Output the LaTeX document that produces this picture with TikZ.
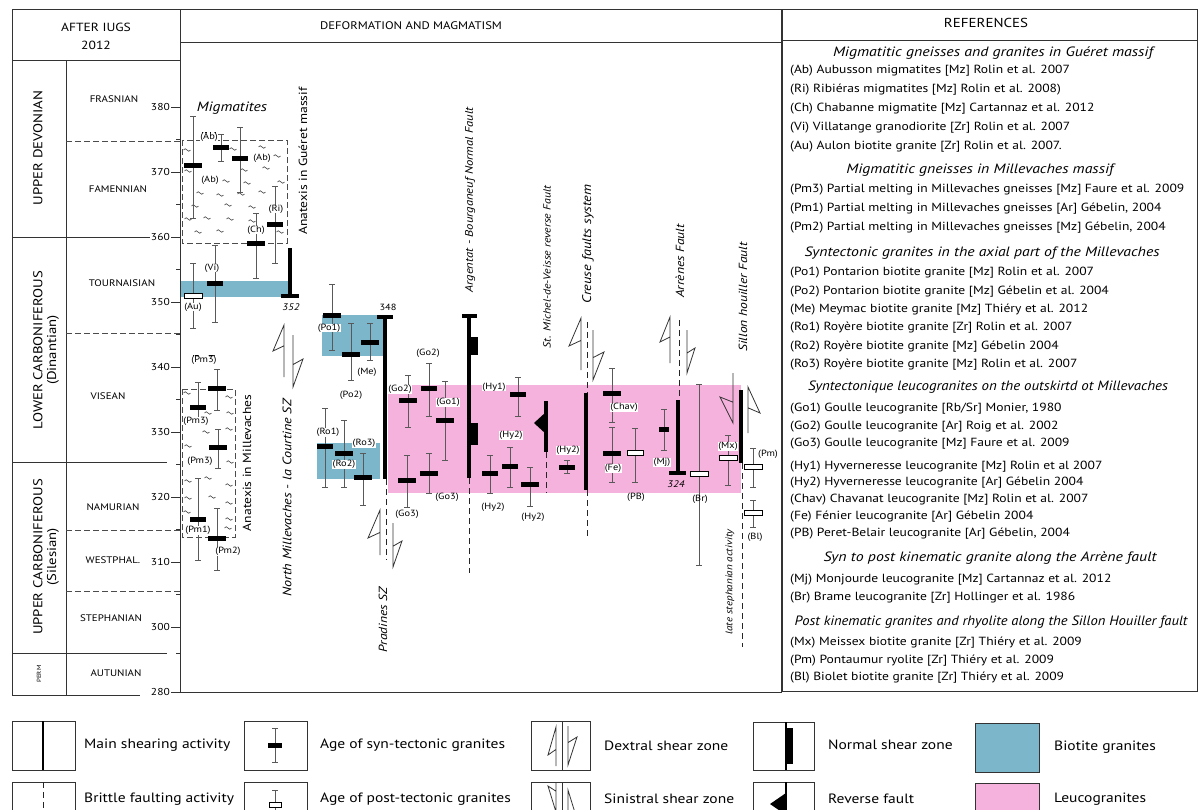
\documentclass[tikz,border=0pt]{standalone}
\usepackage{fontspec}
\setmainfont{PT Sans}[FakeStretch=1.15]
\usepackage{graphicx}
\definecolor{bio}{RGB}{124,182,203}
\definecolor{leuco}{RGB}{245,178,220}
\tikzset{
  frame/.style={draw=black!80, line width=0.9pt},
  errl/.style={draw=black!65, line width=0.8pt},
  shear/.style={draw=black, line width=3.4pt},
  brittle/.style={draw=black!85, line width=1pt, dash pattern=on 6pt off 4pt},
  dbox/.style={draw=black!70, line width=1pt, dash pattern=on 6pt off 3pt},
  flg/.style={draw=black!80, line width=0.8pt, line join=miter},
  tldst/.style={draw=black!75, line width=0.6pt},
  lab/.style={font=\fontsize{9}{10}\selectfont, fill=white, inner sep=0.3pt},
  nolab/.style={font=\fontsize{9}{10}\selectfont, inner sep=0.3pt},
  rotit/.style={rotate=90, font=\itshape\fontsize{11.8}{12}\selectfont, inner sep=0},
  rotup/.style={rotate=90, font=\fontsize{11.8}{12}\selectfont, inner sep=0},
  period/.style={rotate=90, font=\fontsize{12.8}{13}\selectfont, inner sep=0},
  stg/.style={font=\fontsize{9.5}{10}\selectfont, inner sep=0},
  axl/.style={font=\fontsize{10}{10}\selectfont, anchor=east, inner sep=0},
  ref/.style={anchor=west, font=\fontsize{11.8}{12}\selectfont, inner sep=0},
  leg/.style={anchor=west, font=\fontsize{13.5}{14}\selectfont, inner sep=0},
  lbox/.style={draw=black!80, line width=0.8pt},
}
\newcommand\synbar[5]{%
  \draw[errl] (#1,#2)--(#1,#3) ({#1-3},#2)--({#1+3},#2) ({#1-3},#3)--({#1+3},#3);
  \fill[black] ({#1-#5},{#4-2.5}) rectangle ({#1+#5},{#4+2.5});}
\newcommand\postbar[5]{%
  \draw[errl] (#1,#2)--(#1,#3) ({#1-3},#2)--({#1+3},#2) ({#1-3},#3)--({#1+3},#3);
  \filldraw[fill=white,draw=black,line width=0.8pt] ({#1-#5},{#4-2.3}) rectangle ({#1+#5},{#4+2.3});}
\newcommand\flagline[5]{\draw[flg] (#1,#3)--(#1,#2)--({#1+(#4)},{#2+(#5)})--(#1,{#2+0.8*(#5)});}
\newcommand\tld[2]{\draw[tldst] ({#1-3.5},#2) sin ({#1-1.75},{#2-1.3}) cos (#1,#2) sin ({#1+1.75},{#2+1.3}) cos ({#1+3.5},#2);}
\newcommand\hd[5]{\node[inner sep=0] (#1) at (#2,#3) {\resizebox{#4pt}{\height}{\itshape\fontsize{13.5}{14}\selectfont #5}};}
\begin{document}
\begin{tikzpicture}[x=1pt,y=-1pt]
\useasboundingbox (0,0) rectangle (1200,809);
% ---------- colour bands
\fill[bio] (180,281) rectangle (290,297);
\fill[bio] (322,315) rectangle (383,356);
\fill[bio] (317,443) rectangle (380,479);
\fill[leuco] (388,385) rectangle (741,493);
% ---------- frames
\draw[frame] (12,9) -- (1197,9);
\draw[frame] (12,9) -- (12,695);
\draw[frame] (12,60) -- (180,60);
\draw[frame] (66,60) -- (66,695);
\draw[frame] (180,9) -- (180,692) -- (782,692);
\draw[frame] (180,42) -- (782,42);
\draw[frame, line width=1.5pt] (782,9) -- (782,692);
\draw[frame] (782,40) -- (1197,40);
\draw[frame] (1197,9) -- (1197,691) -- (782,691);
\draw[frame] (12,237) -- (150,237);
\draw[frame] (12,462) -- (167,462);
\draw[frame] (12,653) -- (167,653);
\draw[frame] (12,695) -- (140,695);
\draw[dbox] (66,141) -- (182,141);
\draw[dbox] (66,333) -- (180,333);
\draw[dbox] (66,530) -- (182,530);
\draw[dbox] (66,591) -- (180,591);
% ---------- axis
\foreach \v/\yy [count=\i] in {380/107,370/172,360/237,350/302,340/367,330/432,320/497,310/562,300/627,280/692}{
  \draw[frame, line width=0.7pt] (171,\yy) -- (180,\yy);
  \node[axl] (ax\i) at (170,\yy) {\v};}
\foreach \yy in {139.5,204.5,269.5,334.5,399.5,464.5,529.5,594.5,653}{
  \draw[frame, line width=0.7pt] (176,\yy) -- (180,\yy);}
% ---------- left column texts
\node[font=\fontsize{11.8}{12}\selectfont] (h1) at (96,27) {AFTER IUGS};
\node[font=\fontsize{11.8}{12}\selectfont] (h2) at (96,45) {2012};
\node[period] (p1) at (38,148) {UPPER DEVONIAN};
\node[period] (p2) at (38,350) {LOWER CARBONIFEROUS};
\node[period] (p2b) at (53,350) {(Dinantian)};
\node[period] (p3) at (38,557) {UPPER CARBONIFEROUS};
\node[period] (p3b) at (53,557) {(Silesian)};
\node[period, font=\fontsize{6}{6}\selectfont] (p4) at (39,674) {PERM};
\node[stg] (s1) at (114,99) {FRASNIAN};
\node[stg] (s2) at (118,189) {FAMENNIAN};
\node[stg] (s3) at (122,283) {TOURNAISIAN};
\node[stg] (s4) at (108,396) {VISEAN};
\node[stg] (s5) at (113,507) {NAMURIAN};
\node[stg] (s6) at (113,560) {WESTPHAL.};
\node[stg] (s7) at (111,618) {STEPHANIAN};
\node[stg] (s8) at (116,673) {AUTUNIAN};
% ---------- headers
\node[font=\fontsize{11}{12}\selectfont] (hm) at (411,26) {DEFORMATION AND MAGMATISM};
\node[font=\fontsize{13}{13}\selectfont] (hr) at (986,23) {REFERENCES};
% ---------- Gueret migmatites
\draw[dbox] (182,140) rectangle (287,243);
\node[font=\itshape\fontsize{13.5}{14}\selectfont] (mig) at (232,108) {Migmatites};
\foreach \a/\b in {187/150,233/149,262/147,277/156,188/171,244/170,266/168,226/181,247/183,281/182,200/193,220/195,241/194,262/192,195/206,228/205,252/207,188/219,207/218,230/219,252/221,198/232,220/231,280/232}
  \tld{\a}{\b}
\synbar{193}{116}{218}{165}{9}
\synbar{221}{134}{161}{147}{8}
\synbar{240}{127}{192}{158}{8}
\synbar{275}{186}{263}{224}{8}
\synbar{256}{213}{278}{243}{9}
\synbar{215}{245}{322}{283}{8}
\postbar{193}{263}{328}{296}{9}
\node[lab] (lAb2) at (209,137) {(Ab)};
\node[lab] (lAb1) at (210,180) {(Ab)};
\node[lab] (lAb3) at (262,158) {(Ab)};
\node[lab] (lRi) at (276,209) {(Ri)};
\node[lab] (lCh) at (256,230) {(Ch)};
\node[lab] (lVi) at (212,268) {(Vi)};
\node[lab] (lAu) at (193,307) {(Au)};
\draw[shear] (290,248) -- (290,296);
\draw[shear] (281,296) -- (299,296);
\node[nolab, font=\itshape\fontsize{9.5}{10}\selectfont] (l352) at (291,307) {352};
\node[rotup] (anG) at (303,161) {Anatexis in Guéret massif};
% ---------- Millevaches migmatites
\draw[dbox] (182,389) rectangle (235,537);
\foreach \a/\b in {187/393,229/397,208/413,230/413,206/432,229/429,188/446,230/462,188/481,208/478,229/485,188/498,212/497,229/503,187/512,228/528,229/519}
  \tld{\a}{\b}
\synbar{217}{369}{410}{388}{9}
\synbar{198}{382}{418}{407}{8}
\synbar{218}{429}{468}{447}{9}
\synbar{198}{478}{560}{519}{8}
\synbar{217}{508}{570}{538}{9}
\node[lab] (lPm3a) at (204,360) {(Pm3)};
\node[lab] (lPm3b) at (196,421) {(Pm3)};
\node[lab] (lPm3c) at (200,461) {(Pm3)};
\node[lab] (lPm1) at (198,530) {(Pm1)};
\node[lab] (lPm2) at (228,551) {(Pm2)};
\node[rotup] (anM) at (247,463) {Anatexis in Millevaches};
% ---------- North Millevaches SZ
\flagline{284}{325}{377}{-11}{26}
\flagline{293}{387}{335}{10}{-28}
\node[rotit, font=\itshape\fontsize{12.3}{12}\selectfont] (nm) at (287,498) {North Millevaches - la Courtine SZ};
% ---------- Po / Me / Ro
\synbar{332}{284}{350}{315}{9}
\synbar{351}{323}{380}{354}{9}
\synbar{370}{323}{360}{342}{9}
\synbar{325}{408}{487}{446}{8}
\synbar{344}{420}{487}{453}{9}
\synbar{363}{453}{505}{477}{9}
\node[lab] (lPo1) at (329,328) {(Po1)};
\node[lab] (lPo2) at (351,395) {(Po2)};
\node[lab] (lMe) at (367,372) {(Me)};
\node[lab] (lRo1) at (328,432) {(Ro1)};
\node[lab] (lRo2) at (344,464) {(Ro2)};
\node[lab] (lRo3) at (364,443) {(Ro3)};
\draw[shear] (385,317) -- (385,479);
\draw[shear] (377,317) -- (393,317);
\node[nolab] (l348) at (388,307) {348};
\draw[brittle] (386,479) -- (386,560);
\flagline{380}{510}{555}{-12}{28}
\flagline{393}{567}{523}{9}{-26}
\node[rotit] (prad) at (383,620) {Pradines SZ};
% ---------- Goulle
\synbar{408}{375}{427}{400}{9}
\synbar{429}{363}{416}{388}{8}
\synbar{445}{381}{460}{420}{9}
\synbar{407}{455}{507}{480}{9}
\synbar{429}{453}{493}{473}{9}
\node[lab] (lGo2a) at (400,389) {(Go2)};
\node[lab] (lGo2b) at (428,353) {(Go2)};
\node[lab] (lGo1) at (448,402) {(Go1)};
\node[lab] (lGo3a) at (407,514) {(Go3)};
\node[lab] (lGo3b) at (447,497) {(Go3)};
% ---------- Argentat
\draw[shear] (469,316) -- (469,478);
\draw[shear] (462,316) -- (477,316);
\fill[black] (469,337) rectangle (478,355);
\fill[black] (469,423) rectangle (478,445);
\draw[brittle] (469,478) -- (469,573);
\node[rotit, font=\itshape\fontsize{11}{12}\selectfont] (arg) at (470,200) {Argentat - Bourganeuf Normal Fault};
% ---------- Hyverneresse
\synbar{518}{377}{416}{394}{8}
\synbar{490}{455}{493}{473}{8}
\synbar{510}{447}{487}{466}{8}
\synbar{530}{467}{506}{484}{9}
\synbar{567}{460}{473}{467}{8}
\node[lab] (lHy1) at (494,387) {(Hy1)};
\node[lab] (lHy2a) at (493,507) {(Hy2)};
\node[lab] (lHy2b) at (511,435) {(Hy2)};
\node[lab] (lHy2c) at (533,517) {(Hy2)};
\node[lab] (lHy2d) at (568,450) {(Hy2)};
% ---------- St Michel reverse fault
\draw[shear] (546,401) -- (546,452);
\fill[black] (546,412) -- (534,423) -- (546,434) -- cycle;
\draw[brittle] (546,452) -- (546,493);
\node[rotit, font=\itshape\fontsize{10.3}{11}\selectfont] (stm) at (547,267) {St. Michel-de-Veisse reverse Fault};
% ---------- Creuse
\draw[brittle] (587,322) -- (587,393);
\draw[shear] (586,393) -- (586,490);
\draw[brittle] (587,490) -- (587,537);
\flagline{581}{318}{370}{-12}{28}
\flagline{593}{380}{330}{11}{-28}
\node[rotit, font=\itshape\fontsize{12.5}{12}\selectfont] (cre) at (588,244) {Creuse faults system};
% ---------- Chavanat, Fenier, PB, Mj
\synbar{612}{368}{422}{393}{9}
\synbar{612}{427}{482}{453}{9}
\postbar{635}{428}{482}{453}{8}
\synbar{664}{409}{450}{429}{5}
\node[lab] (lChav) at (624,407) {(Chav)};
\node[lab] (lFe) at (613,468) {(Fe)};
\node[nolab] (lPB) at (636,497) {(PB)};
\node[lab] (lMj) at (662,462) {(Mj)};
% ---------- Arrenes
\draw[brittle] (679,320) -- (679,400);
\draw[shear] (678,400) -- (678,473);
\draw[shear] (669,473) -- (686,473);
\node[nolab, font=\itshape\fontsize{9.5}{10}\selectfont] (l324) at (676,484) {324};
\flagline{670}{317}{363}{-10}{25}
\flagline{687}{373}{330}{8}{-25}
\node[rotit] (arr) at (680,261) {Arrènes Fault};
% ---------- Brame, Meissex, Sillon Houiller
\postbar{699}{384}{565}{474}{9}
\node[nolab] (lBr) at (700,499) {(Br)};
\postbar{728}{435}{485}{458}{9}
\node[lab] (lMx) at (728,446) {(Mx)};
\draw[shear] (741,390) -- (741,463);
\draw[brittle] (742,463) -- (742,647);
\flagline{733}{423}{373}{-13}{-26}
\flagline{748}{387}{433}{12}{26}
\postbar{753}{448}{487}{467}{9}
\node[lab] (lPm) at (768,454) {(Pm)};
\postbar{753}{500}{527}{513}{9}
\node[lab] (lBl) at (755,537) {(Bl)};
\node[rotit] (sil) at (743,297) {Sillon  houiller Fault};
\node[rotit, font=\itshape\fontsize{9.6}{10}\selectfont] (lat) at (730,582) {late stephanian activity};
% ---------- references
\hd{H1}{993}{53}{320}{Migmatitic gneisses and granites in Guéret massif}
\node[ref] (r1) at (790,71) {(Ab) Aubusson migmatites  [Mz] Rolin et al. 2007};
\node[ref] (r2) at (790,90) {(Ri) Ribiéras migmatites [Mz] Rolin et al.  2008)};
\node[ref] (r3) at (790,109) {(Ch) Chabanne  migmatite [Mz] Cartannaz et al.  2012};
\node[ref] (r4) at (790,128) {(Vi)  Villatange granodiorite [Zr] Rolin et al. 2007};
\node[ref] (r5) at (790,147) {(Au)  Aulon biotite granite  [Zr] Rolin et al. 2007.};
\hd{H2}{980}{170}{267}{Migmatitic gneisses in Millevaches massif}
\node[ref] (r6) at (790,190) {(Pm3) Partial melting in Millevaches gneisses [Mz] Faure et al. 2009};
\node[ref] (r7) at (790,209) {(Pm1) Partial melting  in Millevaches gneisses [Ar] Gébelin, 2004};
\node[ref] (r8) at (790,228) {(Pm2)  Partial  melting in Millevaches gneisses [Mz] Gébelin, 2004};
\hd{H3}{982}{253}{355}{Syntectonic granites in the axial part of the Millevaches}
\node[ref] (r9) at (790,273) {(Po1) Pontarion  biotite granite [Mz] Rolin et al. 2007};
\node[ref] (r10) at (790,292) {(Po2) Pontarion  biotite granite  [Mz] Gébelin et al. 2004};
\node[ref] (r11) at (790,310) {(Me) Meymac  biotite granite [Mz] Thiéry et al. 2012};
\node[ref] (r12) at (790,328) {(Ro1) Royère biotite granite [Zr] Rolin et al. 2007};
\node[ref] (r13) at (790,347) {(Ro2) Royère biotite granite [Mz] Gébelin 2004};
\node[ref] (r14) at (790,365) {(Ro3) Royère biotite granite  [Mz] Rolin et al. 2007};
\hd{H4}{988}{387}{360}{Syntectonique leucogranites on the outskirtd ot Millevaches}
\node[ref] (r15) at (790,409) {(Go1) Goulle leucogranite [Rb/Sr] Monier, 1980};
\node[ref] (r16) at (790,427) {(Go2) Goulle  leucogranite [Ar] Roig et al. 2002};
\node[ref] (r17) at (790,444) {(Go3) Goulle leucogranite [Mz] Faure et al. 2009};
\node[ref] (r18) at (790,467) {(Hy1) Hyverneresse leucogranite [Mz] Rolin et al 2007};
\node[ref] (r19) at (790,483) {(Hy2) Hyverneresse leucogranite  [Ar] Gébelin 2004};
\node[ref] (r20) at (790,500) {(Chav) Chavanat leucogranite [Mz] Rolin et al. 2007};
\node[ref] (r21) at (790,517) {(Fe) Fénier leucogranite [Ar] Gébelin 2004};
\node[ref] (r22) at (790,534) {(PB) Peret-Belair leucogranite [Ar] Gébelin, 2004};
\hd{H5}{990}{558}{333}{Syn to post kinematic granite along the Arrène fault}
\node[ref] (r23) at (790,580) {(Mj) Monjourde leucogranite [Mz] Cartannaz et al. 2012};
\node[ref] (r24) at (790,598) {(Br) Brame leucogranite [Zr] Hollinger et al. 1986};
\hd{H6}{991}{622}{393}{Post kinematic granites and rhyolite along the Sillon Houiller fault}
\node[ref] (r25) at (790,643) {(Mx) Meissex biotite granite [Zr] Thiéry et al. 2009};
\node[ref] (r26) at (790,661) {(Pm) Pontaumur  ryolite [Zr] Thiéry et al. 2009};
\node[ref] (r27) at (790,678) {(Bl) Biolet biotite granite [Zr] Thiéry et al. 2009};
% ---------- legend
\draw[lbox] (12,721) rectangle (75,770);
\draw[black, line width=2.5pt] (43,721) -- (43,770);
\node[leg] (g1) at (84,745) {Main shearing  activity};
\draw[lbox] (12,782) rectangle (75,832);
\draw[brittle, line width=0.8pt] (43,782) -- (43,832);
\node[leg] (g2) at (84,799) {Brittle faulting activity};
\draw[lbox] (244,721) rectangle (307,770);
\synbar{275}{728}{762}{745}{7}
\node[leg] (g3) at (320,745) {Age of syn-tectonic  granites};
\draw[lbox] (244,782) rectangle (307,832);
\postbar{275}{790}{822}{805}{6}
\node[leg] (g4) at (320,799) {Age of post-tectonic granites};
\draw[lbox] (531,721) rectangle (590,770);
\draw[flg] (562,721) -- (562,770);
\flagline{556}{727}{766}{-8}{28}
\flagline{568}{765}{726}{9}{-28}
\node[leg] (g5) at (604,746) {Dextral shear zone};
\draw[lbox] (531,782) rectangle (590,832);
\draw[flg] (562,782) -- (562,832);
\flagline{556}{812}{782}{-8}{-26}
\flagline{568}{790}{832}{8}{26}
\node[leg] (g6) at (604,799) {Sinistral shear zone};
\draw[lbox] (753,722) rectangle (814,770);
\draw[black, line width=1.5pt] (786,722) -- (786,770);
\fill[black] (786,728) rectangle (793,764);
\node[leg] (g7) at (828,745) {Normal shear zone};
\draw[lbox] (753,782) rectangle (814,832);
\draw[black, line width=1.5pt] (786,782) -- (786,832);
\fill[black] (786,793) -- (770,804) -- (786,815) -- cycle;
\node[leg] (g8) at (828,799) {Reverse fault};
\filldraw[fill=bio, draw=black!80, line width=1pt] (975,723) rectangle (1039,772);
\node[leg] (g9) at (1054,747) {Biotite granites};
\filldraw[fill=leuco, draw=black!80, line width=1pt] (975,783) rectangle (1039,832);
\node[leg] (g10) at (1054,799) {Leucogranites};
\end{tikzpicture}
\end{document}
